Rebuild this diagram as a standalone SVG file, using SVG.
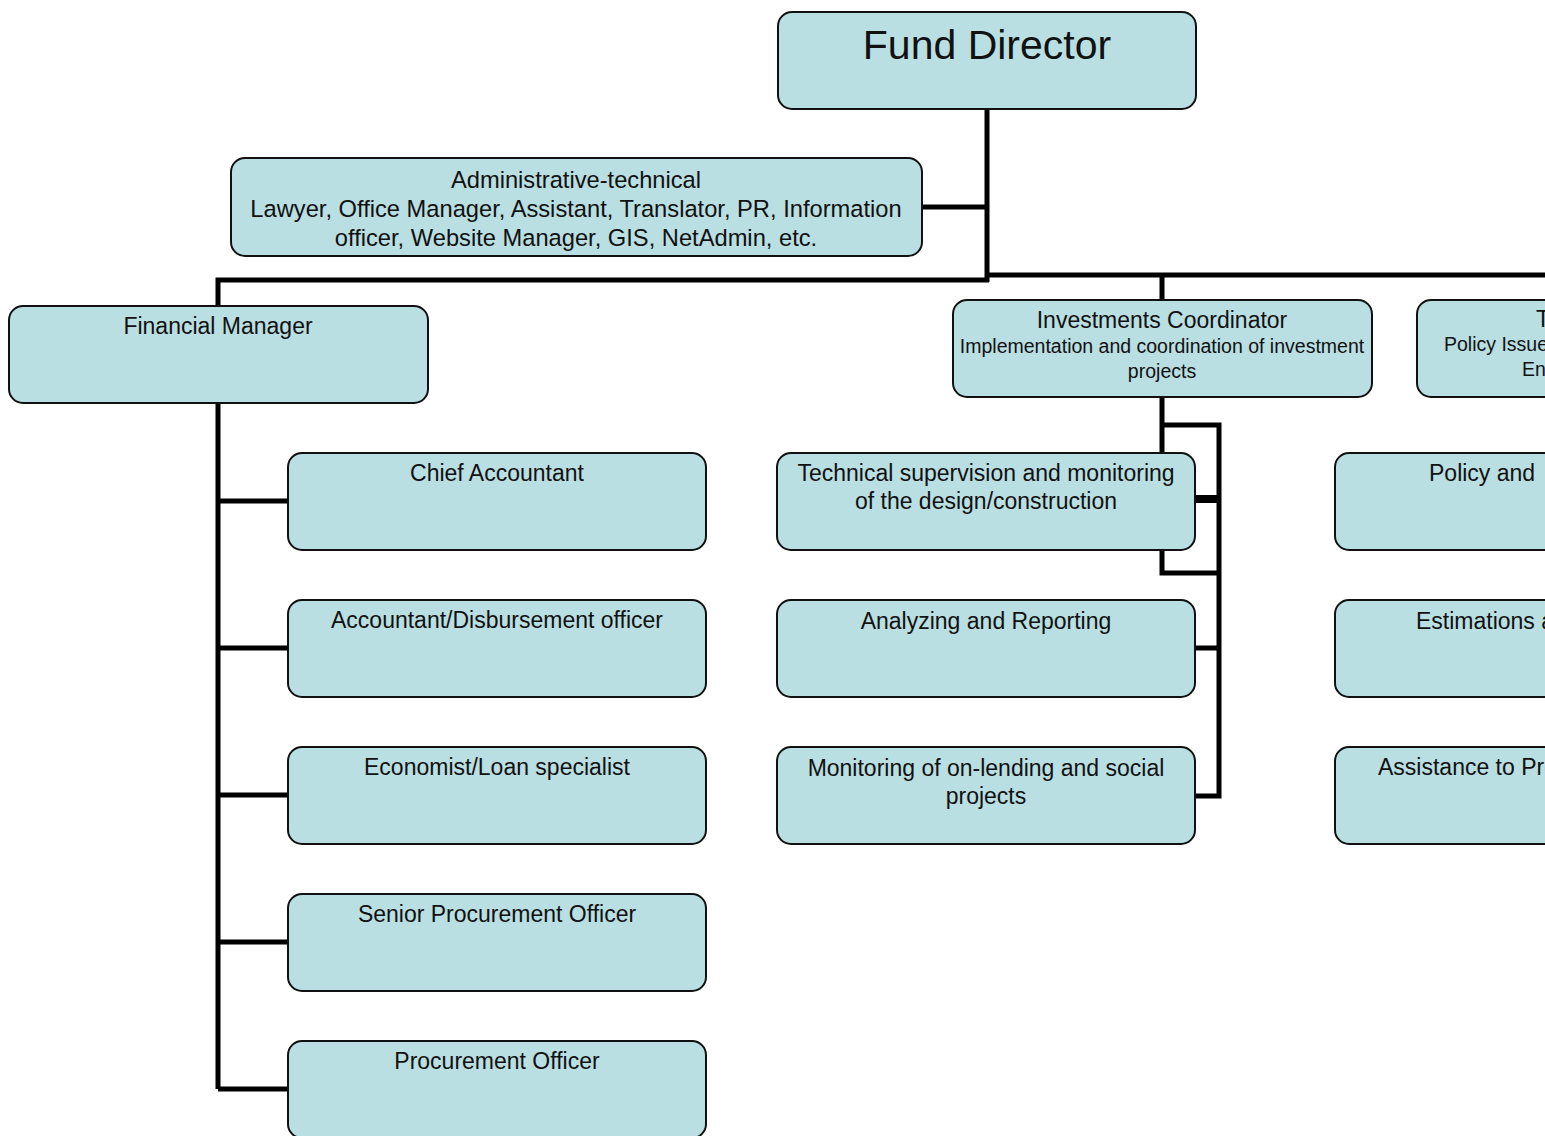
<svg xmlns="http://www.w3.org/2000/svg" width="1545" height="1136" viewBox="0 0 1545 1136">
<style>
  .box { fill: #b9dfe3; stroke: #111; stroke-width: 2; }
  .t { font-family: "Liberation Sans", Arial, sans-serif; fill: #111; font-size: 23px; text-anchor: middle; }
  .s { font-size: 19.5px; }
  .a { font-size: 23.7px; }
  .st { text-anchor: start; }
  .ln { fill: none; stroke: #000; stroke-width: 5; stroke-linejoin: miter; }
</style>
<rect width="1545" height="1136" fill="#fff"/>
<g id="connectors">
  <path class="ln" d="M987 109 V282 M922 207 H987 M989 280 H218 V306 M987 275 H1545 M1162 275 V300"/>
  <path class="ln" d="M218 403 V1089 M218 501 H288 M218 648 H288 M218 795 H288 M218 942 H288 M218 1089 H288"/>
  <path class="ln" d="M1162 397 V573 H1219 M1162 425 H1219 V796 H1195 M1195 648 H1219"/>
  <path class="ln" style="stroke-width:8" d="M1195 499 H1219"/>
</g>
<g id="fund-director">
  <rect class="box" x="778" y="12" width="418" height="97" rx="14"/>
  <text class="t" x="987" y="59" style="font-size:41px">Fund Director</text>
</g>
<g id="admin-technical">
  <rect class="box" x="231" y="158" width="691" height="98" rx="14"/>
  <text class="t a" x="576" y="188">Administrative-technical</text>
  <text class="t a" x="576" y="217">Lawyer, Office Manager, Assistant, Translator, PR, Information</text>
  <text class="t a" x="576" y="246">officer, Website Manager, GIS, NetAdmin, etc.</text>
</g>
<g id="financial-manager">
  <rect class="box" x="9" y="306" width="419" height="97" rx="14"/>
  <text class="t" x="218" y="334">Financial Manager</text>
</g>
<g id="investments-coordinator">
  <rect class="box" x="953" y="300" width="419" height="97" rx="14"/>
  <text class="t" x="1162" y="328">Investments Coordinator</text>
  <text class="t s" x="1162" y="353">Implementation and coordination of investment</text>
  <text class="t s" x="1162" y="378">projects</text>
</g>
<g id="right-coordinator">
  <rect class="box" x="1417" y="300" width="419" height="97" rx="14"/>
  <text class="t st" x="1536" y="327">T</text>
  <text class="t s st" x="1444" y="351">Policy Issue</text>
  <text class="t s st" x="1522" y="376">En</text>
</g>
<g id="chief-accountant">
  <rect class="box" x="288" y="453" width="418" height="97" rx="14"/>
  <text class="t" x="497" y="481">Chief Accountant</text>
</g>
<g id="accountant-disbursement">
  <rect class="box" x="288" y="600" width="418" height="97" rx="14"/>
  <text class="t" x="497" y="628">Accountant/Disbursement officer</text>
</g>
<g id="economist">
  <rect class="box" x="288" y="747" width="418" height="97" rx="14"/>
  <text class="t" x="497" y="775">Economist/Loan specialist</text>
</g>
<g id="senior-procurement">
  <rect class="box" x="288" y="894" width="418" height="97" rx="14"/>
  <text class="t" x="497" y="922">Senior Procurement Officer</text>
</g>
<g id="procurement-officer">
  <rect class="box" x="288" y="1041" width="418" height="97" rx="14"/>
  <text class="t" x="497" y="1069">Procurement Officer</text>
</g>
<g id="technical-supervision">
  <rect class="box" x="777" y="453" width="418" height="97" rx="14"/>
  <text class="t" x="986" y="481">Technical supervision and monitoring</text>
  <text class="t" x="986" y="509">of the design/construction</text>
</g>
<g id="analyzing-reporting">
  <rect class="box" x="777" y="600" width="418" height="97" rx="14"/>
  <text class="t" x="986" y="629">Analyzing and Reporting</text>
</g>
<g id="monitoring-onlending">
  <rect class="box" x="777" y="747" width="418" height="97" rx="14"/>
  <text class="t" x="986" y="776">Monitoring of on-lending and social</text>
  <text class="t" x="986" y="804">projects</text>
</g>
<g id="policy">
  <rect class="box" x="1335" y="453" width="419" height="97" rx="14"/>
  <text class="t st" x="1429" y="481">Policy and</text>
</g>
<g id="estimations">
  <rect class="box" x="1335" y="600" width="419" height="97" rx="14"/>
  <text class="t st" x="1416" y="629">Estimations a</text>
</g>
<g id="assistance">
  <rect class="box" x="1335" y="747" width="419" height="97" rx="14"/>
  <text class="t st" x="1378" y="775">Assistance to Pro</text>
</g>
</svg>
